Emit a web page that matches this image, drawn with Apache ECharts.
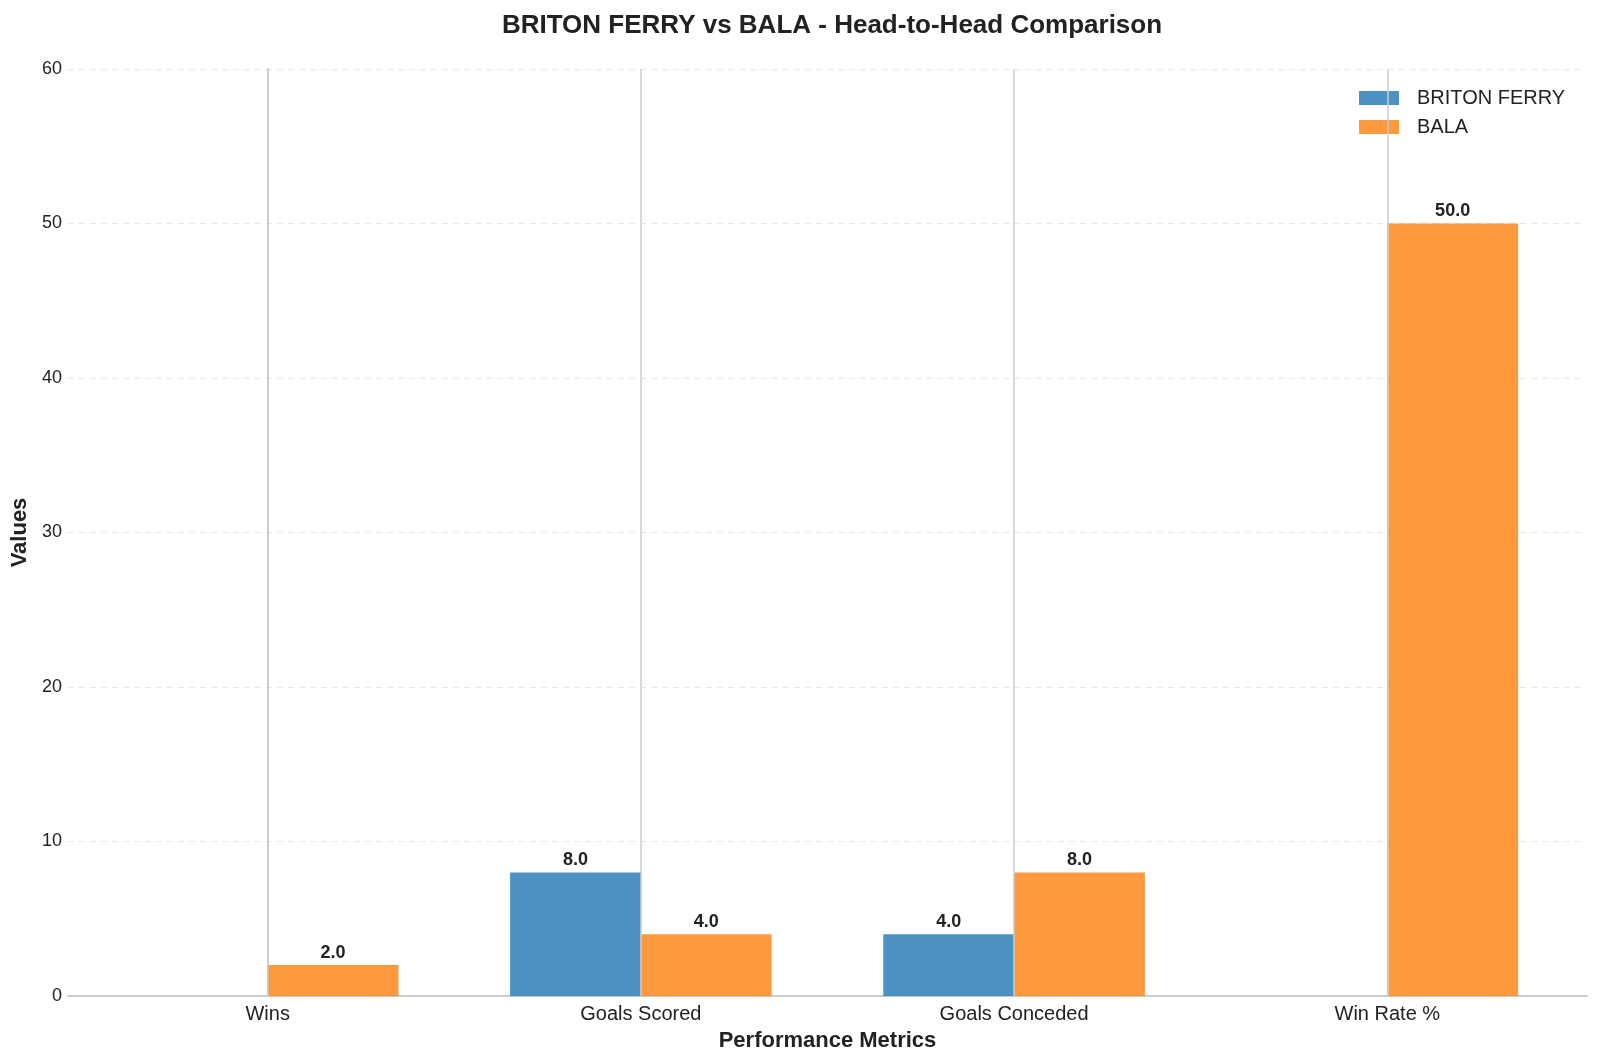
<!DOCTYPE html>
<html>
<head>
<meta charset="utf-8">
<title>BRITON FERRY vs BALA</title>
<script src="https://cdn.jsdelivr.net/npm/echarts@6.0.0/dist/echarts.min.js"></script>
<style>
    html, body { margin: 0; padding: 0; background: #fff; }
    #chart { width: 1600px; height: 1063px; }
</style>
</head>
<body>
<div id="chart"></div>
<script>
var categories = ['Wins', 'Goals Scored', 'Goals Conceded', 'Win Rate %'];
var teams = ['BRITON FERRY', 'BALA'];
var britonFerry = [0, 8, 4, 0];
var bala = [2, 4, 8, 50];
var yTicks = [0, 10, 20, 30, 40, 50, 60];

var fontFamily = '"Liberation Sans", Arial, sans-serif';
var barW = 0.35;

function toPoints(values, offset) {
    return values.map(function (v, i) { return [i + offset, v]; });
}

var labelStyle = {
    show: true,
    position: 'top',
    distance: 3,
    fontFamily: fontFamily,
    fontSize: 18,
    fontWeight: 'bold',
    color: '#222',
    formatter: function (p) {
        return p.value[1] > 0 ? p.value[1].toFixed(1) : '';
    }
};

var chart = echarts.init(document.getElementById('chart'));
chart.setOption({
    animation: false,
    textStyle: { fontFamily: fontFamily },
    title: {
        text: 'BRITON FERRY vs BALA - Head-to-Head Comparison',
        left: 827,
        textAlign: 'center',
        top: 8,
        textStyle: { fontSize: 26, fontWeight: 'bold', color: '#222' }
    },
    legend: {
        orient: 'vertical',
        left: 1354,
        top: 83,
        icon: 'rect',
        itemWidth: 40,
        itemHeight: 14,
        itemGap: 9,
        data: teams,
        textStyle: { fontSize: 20, color: '#222', padding: [0, 0, 0, 13] }
    },
    grid: { left: 68, right: 13, top: 69, bottom: 67 },
    xAxis: {
        type: 'value',
        min: -0.535,
        max: 3.535,
        name: 'Performance Metrics',
        nameLocation: 'middle',
        nameGap: 34,
        nameTextStyle: { fontSize: 22, fontWeight: 'bold', color: '#222' },
        axisLine: { show: true, lineStyle: { color: '#cccccc', width: 2 } },
        axisTick: { show: false },
        splitLine: { show: false },
        axisLabel: {
            customValues: [0, 1, 2, 3],
            formatter: function (v) { return categories[Math.round(v)]; },
            fontSize: 20,
            color: '#222',
            margin: 8
        }
    },
    yAxis: {
        type: 'value',
        min: 0,
        max: 60,
        interval: 10,
        name: 'Values',
        nameLocation: 'middle',
        nameGap: 37,
        nameTextStyle: { fontSize: 22, fontWeight: 'bold', color: '#222' },
        axisLine: { show: true, lineStyle: { color: '#cccccc', width: 2 } },
        axisTick: { show: false },
        axisLabel: {
            fontSize: 18,
            color: '#222',
            margin: 6,
            formatter: function (v) { return yTicks.indexOf(v) >= 0 ? String(v) : ''; }
        },
        splitLine: { show: true, lineStyle: { color: '#e6e6e6', type: [6, 5], width: 1 } }
    },
    series: [
        {
            name: 'grid-x',
            type: 'line',
            data: [],
            silent: true,
            z: 1,
            markLine: {
                silent: true,
                symbol: 'none',
                label: { show: false },
                lineStyle: { color: '#cccccc', width: 1.5, type: 'solid' },
                data: categories.map(function (c, i) { return { xAxis: i }; })
            }
        },
        {
            name: teams[0],
            type: 'bar',
            z: 2,
            barWidth: 131,
            barGap: '-100%',
            itemStyle: { color: 'rgba(31,119,180,0.8)' },
            label: labelStyle,
            data: toPoints(britonFerry, -barW / 2)
        },
        {
            name: teams[1],
            type: 'bar',
            z: 2,
            barWidth: 131,
            barGap: '-100%',
            itemStyle: { color: 'rgba(255,127,14,0.8)' },
            label: labelStyle,
            data: toPoints(bala, barW / 2)
        }
    ]
});
</script>
</body>
</html>
